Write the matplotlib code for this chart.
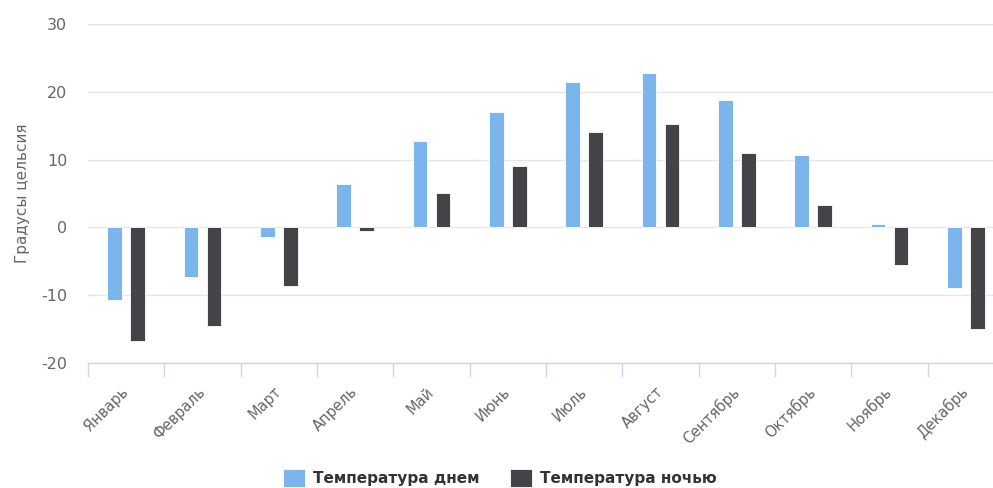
import numpy as np
import matplotlib
matplotlib.use("Agg")
import matplotlib.pyplot as plt

# chart data
months = ["Январь", "Февраль", "Март", "Апрель", "Май", "Июнь",
          "Июль", "Август", "Сентябрь", "Октябрь", "Ноябрь", "Декабрь"]
day_temp = [-10.7, -7.3, -1.4, 6.4, 12.8, 17.0, 21.5, 22.8, 18.8, 10.7, 0.5, -9.0]
night_temp = [-16.8, -14.6, -8.6, -0.5, 5.0, 9.0, 14.1, 15.3, 10.9, 3.3, -5.6, -15.0]
series_names = ["Температура днем", "Температура ночью"]
y_ticks = [-20, -10, 0, 10, 20, 30]

DAY_COLOR = "#7cb5ec"
NIGHT_COLOR = "#434348"
TEXT_COLOR = "#666666"

plt.rcParams["font.family"] = ["DejaVu Sans"]
plt.rcParams["axes.unicode_minus"] = False

W, H = 993, 488
fig = plt.figure(figsize=(W / 100, H / 100), dpi=100)

# plot area in pixels (the right side is cut off in the original)
left, right, top, bottom = 88, 1004, 24, 363
ax = fig.add_axes([left / W, 1 - bottom / H, (right - left) / W, (bottom - top) / H])

x = np.arange(len(months))
bw = 0.19
off = 0.15
b1 = ax.bar(x - off, day_temp, bw, color=DAY_COLOR, edgecolor="white", linewidth=0.6,
            label=series_names[0], zorder=3)
b2 = ax.bar(x + off, night_temp, bw, color=NIGHT_COLOR, edgecolor="white", linewidth=0.6,
            label=series_names[1], zorder=3)

ax.set_xlim(-0.5, len(months) - 0.5)
ax.set_ylim(-20, 30)
ax.set_yticks(y_ticks)
ax.set_yticklabels([str(t) for t in y_ticks])
ax.grid(axis="y", color="#e6e6e6", linewidth=1, zorder=0)
ax.tick_params(axis="y", length=0, pad=15, labelsize=11.5, labelcolor=TEXT_COLOR)

for s in ["top", "right", "left"]:
    ax.spines[s].set_visible(False)
ax.spines["bottom"].set_color("#ccd6eb")
ax.spines["bottom"].set_linewidth(1)

# category boundary ticks
ax.set_xticks(np.arange(len(months) + 1) - 0.5)
ax.set_xticklabels([])
ax.tick_params(axis="x", length=10, width=1, color="#ccd6eb")
ax.set_xticks(x, minor=True)
ax.set_xticklabels(months, minor=True, rotation=45, ha="right", va="center",
                   rotation_mode="anchor", fontsize=10.5, color=TEXT_COLOR)
ax.tick_params(axis="x", which="minor", length=0, pad=19)

ax.set_ylabel("Градусы цельсия", fontsize=11, color=TEXT_COLOR, labelpad=8)

fig.legend(handles=[b1, b2], labels=series_names, loc="center",
           bbox_to_anchor=(500 / W, 1 - 478 / H), ncol=2, frameon=False,
           handlelength=1.4, handleheight=1.4, columnspacing=2.0, handletextpad=0.55,
           borderaxespad=0, borderpad=0,
           prop={"weight": "bold", "size": 11}, labelcolor="#333333")

fig.savefig("out.png", dpi=100, facecolor="white")
